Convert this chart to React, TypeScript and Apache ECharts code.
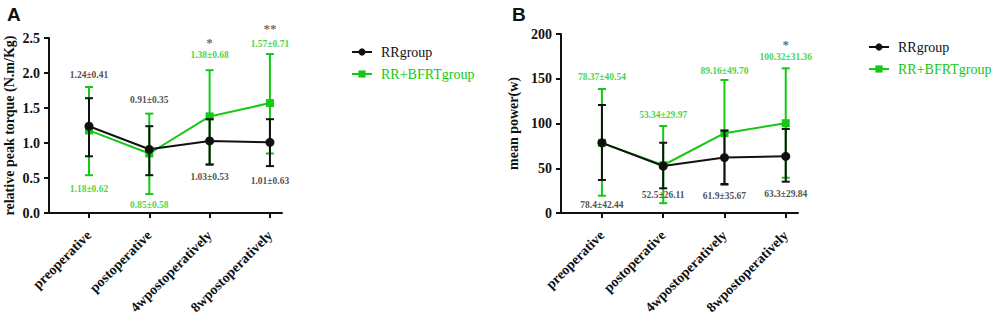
import React, { useEffect, useRef } from "react";
import * as echarts from "echarts";

const categories = ["preoperative", "postoperative", "4wpostoperatively", "8wpostoperatively"];
const seriesNames = ["RRgroup", "RR+BFRTgroup"];

// Panel A: relative peak torque (N.m/Kg)
const torqueRR = [1.24, 0.91, 1.03, 1.01];
const torqueRRUpper = [1.64, 1.24, 1.34, 1.34];
const torqueRRLower = [0.81, 0.54, 0.69, 0.67];
const torqueBF = [1.18, 0.85, 1.38, 1.57];
const torqueBFUpper = [1.8, 1.42, 2.04, 2.27];
const torqueBFLower = [0.54, 0.27, 0.7, 0.85];
const torqueRRText = ["1.24±0.41", "0.91±0.35", "1.03±0.53", "1.01±0.63"];
const torqueRRTextY = [1.97, 1.61, 0.52, 0.46];
const torqueBFText = ["1.18±0.62", "0.85±0.58", "1.38±0.68", "1.57±0.71"];
const torqueBFTextY = [0.34, 0.11, 2.26, 2.42];
const torqueStars = ["", "", "*", "**"];
const torqueStarsY = [0, 0, 2.44, 2.64];

// Panel B: mean power (w)
const powerRR = [78.4, 52.5, 61.9, 63.3];
const powerRRUpper = [120.7, 78.5, 92, 93.9];
const powerRRLower = [36.9, 27.6, 32.4, 35];
const powerBF = [78.37, 53.34, 89.16, 100.32];
const powerBFUpper = [138.5, 97.2, 148.6, 161.7];
const powerBFLower = [19.3, 11, 31.3, 39.4];
const powerRRText = ["78.4±42.44", "52.5±26.11", "61.9±35.67", "63.3±29.84"];
const powerRRTextY = [9, 20, 19, 21];
const powerBFText = ["78.37±40.54", "53.34±29.97", "89.16±49.70", "100.32±31.36"];
const powerBFTextY = [152, 109, 159, 174];
const powerStars = ["", "", "", "*"];
const powerStarsY = [0, 0, 0, 188];

const BLACK = "#111111";
const GREEN = "#14c814";
const SERIF = "'Liberation Serif', 'Times New Roman', serif";

function errorBarSeries(gi: number, upper: number[], lower: number[], color: string, z: number) {
  return {
    type: "custom",
    name: "err" + gi + color,
    xAxisIndex: gi,
    yAxisIndex: gi,
    z,
    silent: true,
    clip: false,
    encode: { x: 0, y: [1, 2] },
    data: upper.map((u, i) => [i, lower[i], u]),
    renderItem: (params: any, api: any) => {
      const x = api.value(0);
      const lo = api.coord([x, api.value(1)]);
      const hi = api.coord([x, api.value(2)]);
      const cw = 4;
      const style = { stroke: color, lineWidth: 2 };
      return {
        type: "group",
        children: [
          { type: "line", shape: { x1: lo[0], y1: lo[1], x2: hi[0], y2: hi[1] }, style },
          { type: "line", shape: { x1: lo[0] - cw, y1: lo[1], x2: lo[0] + cw, y2: lo[1] }, style },
          { type: "line", shape: { x1: hi[0] - cw, y1: hi[1], x2: hi[0] + cw, y2: hi[1] }, style },
        ],
      };
    },
  };
}

function lineSeries(gi: number, name: string, values: number[], color: string, symbol: string, size: number, z: number) {
  return {
    type: "line",
    name,
    xAxisIndex: gi,
    yAxisIndex: gi,
    z,
    symbol,
    symbolSize: size,
    lineStyle: { color, width: 2 },
    itemStyle: { color },
    data: values.map((v, i) => [i, v]),
  };
}

function textSeries(gi: number, texts: string[], ys: number[], color: string, size: number, z: number) {
  return {
    type: "scatter",
    xAxisIndex: gi,
    yAxisIndex: gi,
    z,
    silent: true,
    clip: false,
    symbolSize: 1,
    itemStyle: { color: "rgba(0,0,0,0)" },
    data: texts.map((t, i) => ({ value: [i, ys[i]], name: t })).filter((d) => d.name !== ""),
    label: {
      show: true,
      position: "inside",
      formatter: (p: any) => p.name,
      color,
      textBorderWidth: 0,
      fontFamily: SERIF,
      fontWeight: "bold",
      fontSize: size,
    },
  };
}

function xAxisCfg(gi: number, max: number, min: number) {
  return {
    type: "value",
    gridIndex: gi,
    min,
    max,
    splitLine: { show: false },
    axisLine: { onZero: false, lineStyle: { color: BLACK, width: 2 } },
    axisTick: { customValues: [0, 1, 2, 3], length: 5, lineStyle: { color: BLACK, width: 2 } },
    axisLabel: {
      customValues: [0, 1, 2, 3],
      formatter: (v: number) => categories[Math.round(v)] ?? "",
      rotate: 45,
      margin: 20,
      color: BLACK,
      fontFamily: SERIF,
      fontWeight: "bold",
      fontSize: 14,
    },
  };
}

function yAxisCfg(gi: number, max: number, interval: number, name: string, nameGap: number, digits: number) {
  return {
    type: "value",
    gridIndex: gi,
    min: 0,
    max,
    interval,
    name,
    nameLocation: "middle",
    nameGap,
    nameTextStyle: { color: BLACK, fontFamily: SERIF, fontWeight: "bold", fontSize: 14 },
    splitLine: { show: false },
    axisLine: { show: true, onZero: false, lineStyle: { color: BLACK, width: 2 } },
    axisTick: { show: true, length: 5, lineStyle: { color: BLACK, width: 2 } },
    axisLabel: {
      margin: 9,
      color: BLACK,
      fontFamily: SERIF,
      fontWeight: "bold",
      fontSize: 14,
      formatter: (v: number) => v.toFixed(digits),
    },
  };
}

function legendCfg(left: number, top: number) {
  const ts = { fontFamily: SERIF, fontSize: 14, padding: [0, 0, 0, 4] };
  return {
    orient: "vertical",
    left,
    top,
    itemGap: 8,
    itemWidth: 20,
    itemHeight: 9,
    data: [
      { name: seriesNames[0], textStyle: { ...ts, color: BLACK } },
      { name: seriesNames[1], textStyle: { ...ts, color: GREEN } },
    ],
    textStyle: ts,
  };
}

export default function App() {
  const ref = useRef<HTMLDivElement>(null);
  useEffect(() => {
    if (!ref.current) return;
    const chart = echarts.init(ref.current, null, { renderer: "svg" });
    chart.setOption({
      animation: false,
      backgroundColor: "#ffffff",
      title: [
        { text: "A", left: 2, top: 0, textStyle: { fontFamily: "'Liberation Sans', Arial, sans-serif", fontWeight: "bold", fontSize: 19, color: BLACK } },
        { text: "B", left: 507, top: 0, textStyle: { fontFamily: "'Liberation Sans', Arial, sans-serif", fontWeight: "bold", fontSize: 19, color: BLACK } },
      ],
      legend: [legendCfg(346, 40), legendCfg(863, 35)],
      grid: [
        { left: 49, top: 38, width: 233, height: 175, outerBoundsMode: "none" },
        { left: 561, top: 34, width: 237, height: 179, outerBoundsMode: "none" },
      ],
      xAxis: [xAxisCfg(0, 3.2, -0.663), xAxisCfg(1, 3.2, -0.668)],
      yAxis: [
        yAxisCfg(0, 2.5, 0.5, "relative peak torque (N.m/Kg)", 33, 1),
        yAxisCfg(1, 200, 50, "mean power(w)", 41, 0),
      ],
      series: [
        errorBarSeries(0, torqueBFUpper, torqueBFLower, GREEN, 1),
        lineSeries(0, seriesNames[1], torqueBF, GREEN, "rect", 8, 2),
        errorBarSeries(0, torqueRRUpper, torqueRRLower, BLACK, 3),
        lineSeries(0, seriesNames[0], torqueRR, BLACK, "circle", 9, 4),
        textSeries(0, torqueRRText, torqueRRTextY, "#222222", 9.5, 5),
        textSeries(0, torqueBFText, torqueBFTextY, GREEN, 9.5, 5),
        textSeries(0, torqueStars, torqueStarsY, "#444444", 13, 5),
        errorBarSeries(1, powerBFUpper, powerBFLower, GREEN, 1),
        lineSeries(1, seriesNames[1], powerBF, GREEN, "rect", 8, 2),
        errorBarSeries(1, powerRRUpper, powerRRLower, BLACK, 3),
        lineSeries(1, seriesNames[0], powerRR, BLACK, "circle", 9, 4),
        textSeries(1, powerRRText, powerRRTextY, "#222222", 9.5, 5),
        textSeries(1, powerBFText, powerBFTextY, GREEN, 9.5, 5),
        textSeries(1, powerStars, powerStarsY, "#444444", 13, 5),
      ],
    });
    return () => chart.dispose();
  }, []);
  return <div ref={ref} style={{ position: "fixed", left: 0, top: 0, width: 996, height: 315 }} />;
}
